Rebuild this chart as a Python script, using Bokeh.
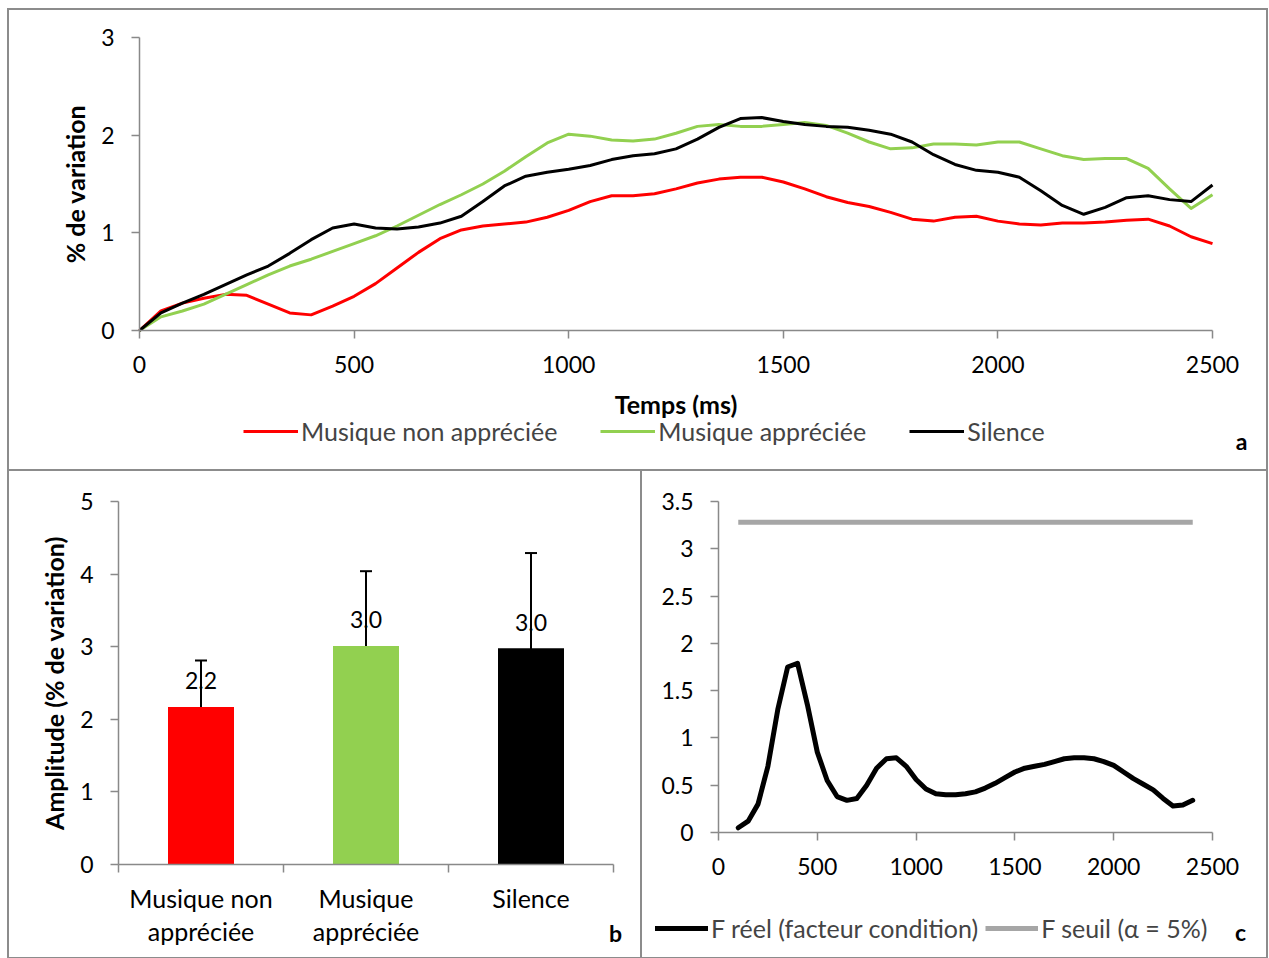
from bokeh.plotting import figure
from bokeh.models import (ColumnDataSource, Legend, LegendItem, Label, LabelSet, Whisker,
                          FixedTicker, CustomJSTickFormatter, Range1d, TeeHead)
from bokeh.layouts import column, row
from bokeh.embed import file_html
from bokeh.resources import INLINE
from bokeh.core.properties import value

FONT = "Lato"
AXIS_COLOR = "#898989"
FRAME_CSS = {"outline": "2px solid #8c8c8c"}
TICK_SIZE = "23px"
TEXT_SIZE = "25px"
AXIS_LABEL_SIZE = "25px"
LETTER_SIZE = "23px"

# ---------------- Panel a data ----------------
time_ms = [0, 50, 100, 150, 200, 250, 300, 350, 400, 450, 500, 550, 600, 650, 700, 750,
           800, 850, 900, 950, 1000, 1050, 1100, 1150, 1200, 1250, 1300, 1350, 1400, 1450,
           1500, 1550, 1600, 1650, 1700, 1750, 1800, 1850, 1900, 1950, 2000, 2050, 2100,
           2150, 2200, 2250, 2300, 2350, 2400, 2450, 2500]
non_appreciee = [0.00, 0.20, 0.28, 0.33, 0.37, 0.36, 0.27, 0.18, 0.16, 0.25, 0.35, 0.48, 0.64,
                 0.80, 0.94, 1.03, 1.07, 1.09, 1.11, 1.16, 1.23, 1.32, 1.38, 1.38, 1.40, 1.45,
                 1.51, 1.55, 1.57, 1.57, 1.52, 1.45, 1.37, 1.31, 1.27, 1.21, 1.14, 1.12, 1.16,
                 1.17, 1.12, 1.09, 1.08, 1.10, 1.10, 1.11, 1.13, 1.14, 1.07, 0.96, 0.89]
appreciee = [0.00, 0.14, 0.20, 0.27, 0.37, 0.47, 0.57, 0.66, 0.73, 0.81, 0.89, 0.97, 1.07,
             1.18, 1.29, 1.39, 1.50, 1.63, 1.78, 1.92, 2.01, 1.99, 1.95, 1.94, 1.96, 2.02,
             2.09, 2.11, 2.09, 2.09, 2.11, 2.13, 2.10, 2.02, 1.93, 1.86, 1.87, 1.91, 1.91,
             1.90, 1.93, 1.93, 1.86, 1.79, 1.75, 1.76, 1.76, 1.66, 1.45, 1.25, 1.39]
silence = [0.00, 0.18, 0.28, 0.37, 0.47, 0.57, 0.66, 0.79, 0.93, 1.05, 1.09, 1.05, 1.04,
           1.06, 1.10, 1.17, 1.32, 1.48, 1.58, 1.62, 1.65, 1.69, 1.75, 1.79, 1.81, 1.86,
           1.96, 2.08, 2.17, 2.18, 2.14, 2.11, 2.09, 2.08, 2.05, 2.01, 1.93, 1.80, 1.70,
           1.64, 1.62, 1.57, 1.43, 1.28, 1.19, 1.26, 1.36, 1.38, 1.34, 1.32, 1.49]
series_names = ["Musique non appréciée", "Musique appréciée", "Silence"]
series_colors = ["#ff0000", "#92d050", "#000000"]

# ---------------- Panel b data ----------------
categories = ["Musique non\nappréciée", "Musique\nappréciée", "Silence"]
amplitude = [2.17, 3.01, 2.98]
amp_error = [0.64, 1.03, 1.31]
amp_labels = ["2.2", "3.0", "3.0"]
bar_colors = ["#ff0000", "#92d050", "#000000"]

# ---------------- Panel c data ----------------
f_time = [100, 150, 200, 250, 300, 350, 400, 450, 500, 550, 600, 650, 700, 750, 800, 850,
          900, 950, 1000, 1050, 1100, 1150, 1200, 1250, 1300, 1350, 1400, 1450, 1500, 1550,
          1600, 1650, 1700, 1750, 1800, 1850, 1900, 1950, 2000, 2050, 2100, 2150, 2200,
          2250, 2300, 2350, 2400]
f_reel = [0.05, 0.12, 0.30, 0.70, 1.30, 1.75, 1.79, 1.35, 0.85, 0.55, 0.38, 0.34, 0.36,
          0.50, 0.68, 0.78, 0.79, 0.70, 0.56, 0.46, 0.41, 0.40, 0.40, 0.41, 0.43, 0.47,
          0.52, 0.58, 0.64, 0.68, 0.70, 0.72, 0.75, 0.78, 0.79, 0.79, 0.78, 0.75, 0.71,
          0.64, 0.57, 0.51, 0.45, 0.36, 0.28, 0.29, 0.34]
seuil_time = [100, 2400]
f_seuil = [3.28, 3.28]


def span(p0, v0, p1, v1, size):
    """Range whose value v0 sits p0 px and v1 sits p1 px from the start of a size-px frame."""
    k = (v1 - v0) / (p1 - p0)
    return Range1d(v0 - p0 * k, v0 + (size - p0) * k)


def make_fig(w, h, xr, yr):
    p = figure(width=w, height=h, x_range=xr, y_range=yr, min_border=0,
               output_backend="svg", toolbar_location=None, styles=FRAME_CSS)
    p.grid.visible = False
    p.outline_line_color = None
    p.border_fill_color = "white"
    return p


def style_axes(p, xbounds, ybounds):
    for ax in p.axis:
        ax.axis_line_color = AXIS_COLOR
        ax.axis_line_width = 1.5
        ax.major_tick_line_color = AXIS_COLOR
        ax.major_tick_line_width = 1.5
        ax.major_tick_in = 0
        ax.major_tick_out = 8
        ax.minor_tick_line_color = None
        ax.major_label_text_font = FONT
        ax.major_label_text_font_size = TICK_SIZE
        ax.major_label_text_color = "#000000"
        ax.major_label_standoff = 17
        ax.axis_label_text_font = FONT
        ax.axis_label_text_font_style = "bold"
        ax.axis_label_text_font_size = AXIS_LABEL_SIZE
        ax.axis_label_text_color = "#000000"
    p.xaxis.fixed_location = ybounds[0]
    p.yaxis.fixed_location = xbounds[0]
    p.xaxis.bounds = xbounds
    p.yaxis.bounds = ybounds


def make_legend(items, loc, glyph_width, spacing):
    return Legend(items=items, orientation="horizontal", location=loc,
                  glyph_width=glyph_width, glyph_height=20, label_standoff=3,
                  spacing=spacing, padding=0, margin=0, border_line_color=None,
                  background_fill_alpha=0, label_text_font=FONT, label_text_font_size=TEXT_SIZE,
                  label_height=20)


def letter(p, txt, x, y):
    p.add_layout(Label(x=x, y=y, x_units="screen", y_units="screen", text=txt,
                       text_font=FONT, text_font_style="bold", text_font_size=LETTER_SIZE,
                       text_align="center", text_baseline="middle", text_color="#000000"))


# ================= Panel a =================
pa = make_fig(1257, 459, span(130, 0, 1203, 2500, 1257), span(139, 0, 432, 3, 459))
renderers = []
for vals, col in zip([non_appreciee, appreciee, silence], series_colors):
    renderers.append(pa.line(time_ms, vals, line_color=col, line_width=3, line_join="round"))
style_axes(pa, (0, 2500), (0, 3))
pa.xaxis.ticker = FixedTicker(ticks=[0, 500, 1000, 1500, 2000, 2500])
pa.yaxis.ticker = FixedTicker(ticks=[0, 1, 2, 3])
pa.xaxis.axis_label = "Temps (ms)"
pa.yaxis.axis_label = "% de variation"
pa.xaxis.axis_label_standoff = 13
pa.yaxis.axis_label_standoff = 8
pa.add_layout(make_legend([LegendItem(label=n, renderers=[r]) for n, r in zip(series_names, renderers)],
                          (234, 23), 55, 43))
letter(pa, "a", 1232, 29)

# ================= Panel b =================
xpos = [i + 0.5 for i in range(len(categories))]
src_b = ColumnDataSource(dict(x=xpos, amp=amplitude, color=bar_colors, label=amp_labels,
                              upper=[a + e for a, e in zip(amplitude, amp_error)],
                              lower=[a - e for a, e in zip(amplitude, amp_error)]))
pb = make_fig(631, 486, span(109, 0, 604, 3, 631), span(93, 0, 456, 5, 486))
pb.vbar(x="x", top="amp", width=0.4, fill_color="color", line_color=None, source=src_b)
style_axes(pb, (0, 3), (0, 5))
pb.yaxis.ticker = FixedTicker(ticks=[0, 1, 2, 3, 4, 5])
pb.yaxis.axis_label = "Amplitude (% de variation)"
pb.yaxis.axis_label_standoff = 8
pb.xaxis.ticker = FixedTicker(ticks=xpos, minor_ticks=[0, 1, 2, 3])
pb.xaxis.major_tick_line_color = None
pb.xaxis.minor_tick_line_color = AXIS_COLOR
pb.xaxis.minor_tick_line_width = 1.5
pb.xaxis.minor_tick_in = 0
pb.xaxis.minor_tick_out = 8
pb.xaxis.major_label_overrides = {x: c for x, c in zip(xpos, categories)}
pb.xaxis.major_label_text_font_size = TEXT_SIZE
pb.xaxis.major_label_text_line_height = 1.1
pb.xaxis.major_label_standoff = 10
pb.add_layout(LabelSet(x="x", y="amp", text="label", source=src_b, y_offset=26,
                       text_align="center", text_baseline="middle", text_font=value(FONT),
                       text_font_size=TICK_SIZE, text_color="#000000"))
pb.add_layout(Whisker(source=src_b, base="x", upper="upper", lower="lower",
                      line_color="black", line_width=2,
                      upper_head=TeeHead(size=12, line_color="black", line_width=2),
                      lower_head=TeeHead(size=12, line_color="black", line_width=2)))
letter(pb, "b", 606, 25)

# ================= Panel c =================
pc = make_fig(624, 486, span(76, 0, 570, 2500, 624), span(125, 0, 456, 3.5, 486))
r_reel = pc.line(f_time, f_reel, line_color="black", line_width=5, line_join="round",
                 line_cap="round")
r_seuil = pc.line(seuil_time, f_seuil, line_color="#a6a6a6", line_width=5)
style_axes(pc, (0, 2500), (0, 3.5))
pc.xaxis.ticker = FixedTicker(ticks=[0, 500, 1000, 1500, 2000, 2500])
pc.yaxis.ticker = FixedTicker(ticks=[0, 0.5, 1, 1.5, 2, 2.5, 3, 3.5])
pc.yaxis.formatter = CustomJSTickFormatter(code="return String(tick);")
pc.add_layout(make_legend([LegendItem(label="F réel (facteur condition)", renderers=[r_reel]),
                           LegendItem(label="F seuil (α = 5%)", renderers=[r_seuil])],
                          (13, 14), 53, 7))
letter(pc, "c", 598, 26)

layout = column(pa, row(pb, pc, spacing=2), spacing=2, margin=(10, 0, 0, 9))
open("out.html", "w").write(file_html(layout, INLINE))
